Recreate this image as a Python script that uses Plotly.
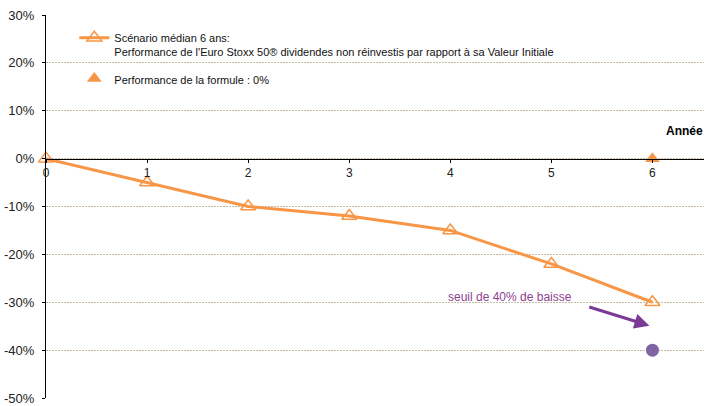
import plotly.graph_objects as go

years = [0, 1, 2, 3, 4, 5, 6]
median_perf = [0, -5, -10, -12, -15, -22, -30]
formula_x = [6]
formula_perf = [0]
threshold_x = [6]
threshold_y = [-40]
y_ticks = [30, 20, 10, 0, -10, -20, -30, -40, -50]
y_tick_labels = ["30%", "20%", "10%", "0%", "-10%", "-20%", "-30%", "-40%", "-50%"]

ORANGE = "#F79646"
PURPLE = "#8064A2"
GRID = "#C8BBA6"
FONT = "Liberation Sans, Arial, sans-serif"

fig = go.Figure()
fig.add_trace(go.Scatter(
    x=years, y=median_perf, mode="lines+markers", legendgroup="a",
    name="Scénario médian 6 ans:<br>Performance de l'Euro Stoxx 50® dividendes non réinvestis par rapport à sa Valeur Initiale",
    line=dict(color=ORANGE, width=3),
    marker=dict(symbol="triangle-up-open", size=13, color=ORANGE, line=dict(width=1.5, color=ORANGE)),
    cliponaxis=False,
))
fig.add_trace(go.Scatter(
    x=formula_x, y=formula_perf, mode="markers", legendgroup="b",
    name="Performance de la formule : 0%",
    marker=dict(symbol="triangle-up", size=13, color=ORANGE),
    cliponaxis=False,
))
fig.add_trace(go.Scatter(
    x=threshold_x, y=threshold_y, mode="markers", showlegend=False,
    marker=dict(symbol="circle", size=13, color=PURPLE),
    cliponaxis=False,
))

fig.add_annotation(x=5.97, y=-34.9, ax=5.36, ay=-30.9, axref="x", ayref="y",
                   xref="x", yref="y", text="", showarrow=True,
                   arrowhead=2, arrowsize=1, arrowwidth=3, arrowcolor="#7B3A96")
fig.add_annotation(x=4.59, y=-29.0, xref="x", yref="y", text="seuil de 40% de baisse",
                   showarrow=False, font=dict(family=FONT, size=12, color="#8E3F91"))
fig.add_annotation(x=(664 - 46) / 658, y=(398 - 131) / 383, xref="paper", yref="paper",
                   text="<b>Année</b>", showarrow=False, xanchor="left", yanchor="middle",
                   font=dict(family=FONT, size=12, color="#000"))

fig.update_layout(
    width=705, height=406,
    margin=dict(l=46, r=1, t=15, b=8),
    paper_bgcolor="white", plot_bgcolor="white",
    font=dict(family=FONT, size=12, color="#222"),
    showlegend=True,
    legend=dict(x=0.043, y=0.976, xanchor="left", yanchor="top", valign="top",
                bgcolor="rgba(0,0,0,0)", font=dict(family=FONT, size=11, color="#111"),
                tracegroupgap=9, itemwidth=30),
    xaxis=dict(range=[0, 6.51], tickvals=years, ticktext=[str(v) for v in years],
               showgrid=False, zeroline=False, showline=True, linecolor="#000", linewidth=1,
               ticks="outside", ticklen=3, tickcolor="#000",
               anchor="free", position=0.625, tickfont=dict(size=12, color="#222")),
    yaxis=dict(range=[-50, 30], tickvals=y_ticks, ticktext=y_tick_labels,
               showgrid=True, gridcolor=GRID, griddash="2px,1px", gridwidth=1,
               zeroline=False, showline=True, linecolor="#000", linewidth=1,
               ticks="outside", ticklen=3, tickcolor="#000", ticklabelstandoff=5,
               tickfont=dict(size=13, color="#222")),
)

fig.write_html("out.html", config={"displayModeBar": False},
               post_script="document.body.style.margin='0';")
